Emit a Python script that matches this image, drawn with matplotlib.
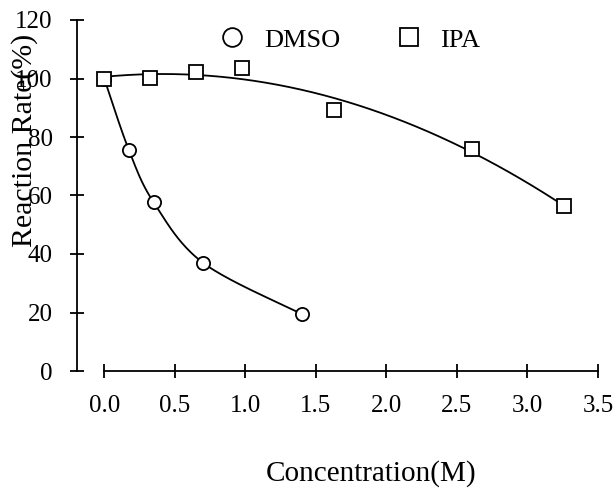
import matplotlib
matplotlib.use("Agg")
import matplotlib.pyplot as plt
from matplotlib.lines import Line2D
import numpy as np

plt.rcParams["font.family"] = ["Liberation Serif", "DejaVu Serif"]

# data
dmso_x = [0.0, 0.175, 0.35, 0.70, 1.40]
dmso_y = [100.0, 75.5, 57.7, 37.0, 19.5]
ipa_x = [0.0, 0.327, 0.653, 0.98, 1.63, 2.61, 3.26]
ipa_y = [100.0, 100.3, 102.3, 103.5, 89.2, 75.8, 56.4]
xticks = [0.0, 0.5, 1.0, 1.5, 2.0, 2.5, 3.0, 3.5]
yticks = [0, 20, 40, 60, 80, 100, 120]


def smooth(x, y, n=40):
    # excel-like smoothed line (catmull-rom as cubic bezier)
    p = np.column_stack([x, y])
    p = np.vstack([p[0], p, p[-1]])
    t = np.linspace(0, 1, n)[:, None]
    segs = []
    for i in range(1, len(p) - 2):
        b0, b3 = p[i], p[i + 1]
        b1 = p[i] + (p[i + 1] - p[i - 1]) / 6
        b2 = p[i + 1] - (p[i + 2] - p[i]) / 6
        segs.append((1 - t) ** 3 * b0 + 3 * (1 - t) ** 2 * t * b1
                    + 3 * (1 - t) * t ** 2 * b2 + t ** 3 * b3)
    return np.vstack(segs)


fig = plt.figure(figsize=(6.16, 4.88), dpi=100)
ax = fig.add_axes([77 / 616, 117 / 488, 521 / 616, 351 / 488])

lw = 1.3
curve = smooth(dmso_x, dmso_y)
ax.plot(curve[:, 0], curve[:, 1], color="black", lw=lw)

# polynomial trendline for IPA
coef = np.polyfit(ipa_x, ipa_y, 2)
xs = np.linspace(ipa_x[0], ipa_x[-1], 200)
ax.plot(xs, np.polyval(coef, xs), color="black", lw=lw)

ax.plot(dmso_x, dmso_y, "o", ms=9.5, mfc="white", mec="black", mew=lw, clip_on=False)
ax.plot(ipa_x, ipa_y, "s", ms=9.5, mfc="white", mec="black", mew=lw, clip_on=False)

ax.set_xlim(-0.193, 3.5)
ax.set_ylim(0, 120)
ax.set_xticks(xticks)
ax.set_xticklabels([f"{v:.1f}" for v in xticks])
ax.set_yticks(yticks)
for s in ["top", "right"]:
    ax.spines[s].set_visible(False)
for s in ["left", "bottom"]:
    ax.spines[s].set_linewidth(lw)
ax.spines["bottom"].set_bounds(0, 3.5)
ax.tick_params(direction="inout", length=10, width=lw, labelsize=18, pad=12.5)

handles = [
    Line2D([], [], ls="none", marker="o", ms=13.5, mfc="white", mec="black", mew=lw),
    Line2D([], [], ls="none", marker="s", ms=13.5, mfc="white", mec="black", mew=lw),
]
fig.legend(handles, ["DMSO", "IPA"], ncol=2, frameon=False, fontsize=19,
           loc="center left", bbox_to_anchor=(219 / 616, 1 - 40 / 488),
           handlelength=1.0, handletextpad=0.7, columnspacing=2.1,
           borderpad=0, borderaxespad=0)

fig.text(25 / 616, 1 - 140 / 488, "Reaction Rate(%)", rotation=90,
         ha="center", va="center", fontsize=21.5)
fig.text(371 / 616, 7 / 488, "Concentration(M)", ha="center",
         va="baseline", fontsize=21)

fig.savefig("out.png", dpi=100)
